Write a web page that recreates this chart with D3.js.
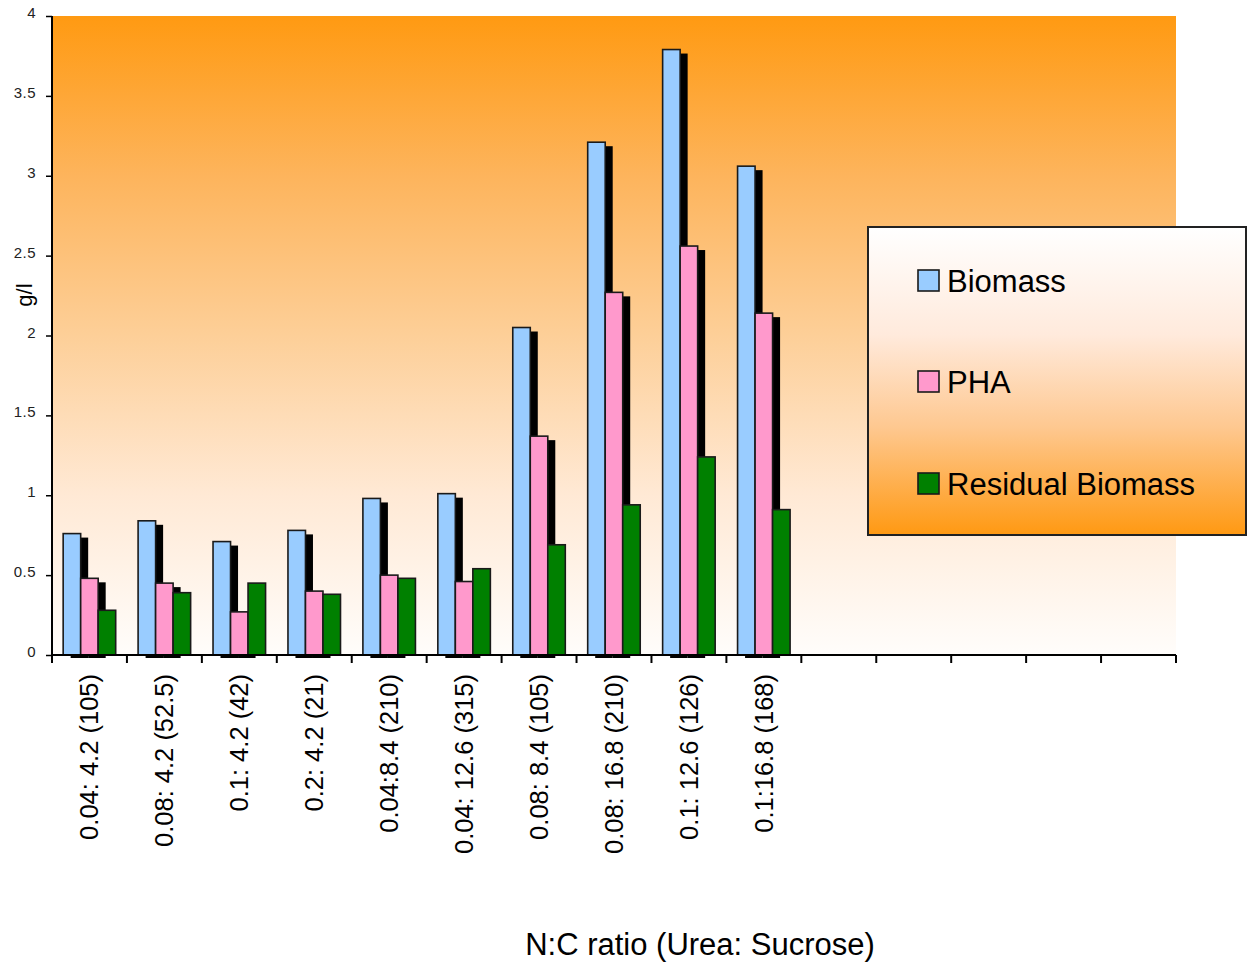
<!DOCTYPE html>
<html>
<head>
<meta charset="utf-8">
<script src="https://cdn.jsdelivr.net/npm/d3@7/dist/d3.min.js"></script>
<style>
  html, body { margin: 0; padding: 0; background: #ffffff; }
  svg { display: block; font-family: "Liberation Sans", Arial, sans-serif; }
</style>
</head>
<body>
<svg id="chart" width="1249" height="963"></svg>
<script>
// N:C ratio (Urea : Sucrose) treatments; the last slots of the axis are left empty
const categories = [
  "0.04: 4.2 (105)", "0.08: 4.2 (52.5)", "0.1: 4.2 (42)", "0.2: 4.2 (21)",
  "0.04:8.4 (210)", "0.04: 12.6 (315)", "0.08: 8.4 (105)", "0.08: 16.8 (210)",
  "0.1: 12.6 (126)", "0.1:16.8 (168)", "", "", "", "", ""
];
const seriesNames = ["Biomass", "PHA", "Residual Biomass"];
const biomass  = [0.76, 0.84, 0.71, 0.78, 0.98, 1.01, 2.05, 3.21, 3.79, 3.06];
const pha      = [0.48, 0.45, 0.27, 0.40, 0.50, 0.46, 1.37, 2.27, 2.56, 2.14];
const residual = [0.28, 0.39, 0.45, 0.38, 0.48, 0.54, 0.69, 0.94, 1.24, 0.91];
const yTicks = [0, 0.5, 1, 1.5, 2, 2.5, 3, 3.5, 4];
const yLabel = "g/l";
const xTitle = "N:C ratio (Urea: Sucrose)";

const colors = ["#99ccff", "#ff99cc", "#008000"];
const values = [biomass, pha, residual];

const svg = d3.select("#chart");
const plot = { left: 52, right: 1176, top: 16, bottom: 655 };

const x = d3.scaleBand()
  .domain(d3.range(categories.length))
  .range([plot.left, plot.right])
  .paddingInner(0).paddingOuter(0);

const y = d3.scaleLinear().domain([0, 4]).range([plot.bottom, plot.top]);

// cluster occupies the middle part of each category slot
const bw = x.bandwidth();
const inner = d3.scaleBand()
  .domain(d3.range(seriesNames.length))
  .range([bw * 0.149, bw * 0.85])
  .paddingInner(0);

const defs = svg.append("defs");
const bgGrad = defs.append("linearGradient").attr("id", "plotBg")
  .attr("x1", 0).attr("y1", 0).attr("x2", 0).attr("y2", 1);
[[0, "#ff9a12"], [0.25, "#fdb45c"], [0.5, "#fdcf98"], [0.75, "#ffe9d5"], [1, "#fffdfb"]]
  .forEach(([o, c]) => bgGrad.append("stop").attr("offset", o).attr("stop-color", c));

const lgGrad = defs.append("linearGradient").attr("id", "legendBg")
  .attr("x1", 0).attr("y1", 0).attr("x2", 0).attr("y2", 1);
[[0, "#ffffff"], [0.35, "#ffeadc"], [0.65, "#fec890"], [1, "#ff9912"]]
  .forEach(([o, c]) => lgGrad.append("stop").attr("offset", o).attr("stop-color", c));

// plot background
svg.append("rect")
  .attr("x", plot.left).attr("y", plot.top)
  .attr("width", plot.right - plot.left).attr("height", plot.bottom - plot.top)
  .attr("fill", "url(#plotBg)");

// bars with drop shadows (shadows only behind the first two series)
const gBars = svg.append("g");
const shadowDx = 7.5, shadowDy = 4;
categories.forEach((cat, i) => {
  if (i >= biomass.length) return;
  const x0 = x(i);
  values.forEach((vals, s) => {
    const v = vals[i];
    const bx = x0 + inner(s);
    const by = y(v);
    const w = inner.bandwidth();
    if (s < 2) {
      gBars.append("rect")
        .attr("x", bx + shadowDx).attr("y", by + shadowDy)
        .attr("width", w).attr("height", y(0) - by - shadowDy + 3)
        .attr("fill", "#000");
    }
    gBars.append("rect")
      .attr("x", bx).attr("y", by)
      .attr("width", w).attr("height", y(0) - by)
      .attr("fill", colors[s])
      .attr("stroke", "#1a1a1a").attr("stroke-width", 1.6);
  });
});

// y axis
const yAxis = d3.axisLeft(y).tickValues(yTicks)
  .tickFormat(d3.format("")).tickSize(6).tickPadding(10);
const gy = svg.append("g").attr("transform", `translate(${plot.left},0)`).call(yAxis);
gy.select(".domain").remove();
gy.selectAll(".tick line").attr("stroke", "#000").attr("stroke-width", 1.5);
gy.selectAll(".tick text")
  .attr("font-size", 15).attr("fill", "#222")
  .attr("font-family", "'Liberation Sans', Arial, sans-serif")
  .attr("letter-spacing", 0.5)
  .attr("dy", "0.1em");
svg.append("line")
  .attr("x1", plot.left).attr("x2", plot.left)
  .attr("y1", plot.top).attr("y2", plot.bottom + 6)
  .attr("stroke", "#000").attr("stroke-width", 2);

// x axis with ticks at slot boundaries
svg.append("line")
  .attr("x1", plot.left).attr("x2", plot.right)
  .attr("y1", plot.bottom).attr("y2", plot.bottom)
  .attr("stroke", "#000").attr("stroke-width", 2);
const bounds = d3.range(categories.length + 1).map(i => plot.left + i * bw);
svg.append("g").selectAll("line").data(bounds).join("line")
  .attr("x1", d => d).attr("x2", d => d)
  .attr("y1", plot.bottom).attr("y2", plot.bottom + 8)
  .attr("stroke", "#000").attr("stroke-width", 2);

// category labels, rotated
svg.append("g").selectAll("text").data(categories).join("text")
  .attr("transform", (d, i) => `translate(${x(i) + bw / 2 + 9},674) rotate(-90)`)
  .attr("text-anchor", "end")
  .attr("font-size", 25.5)
  .attr("fill", "#000")
  .text(d => d);

// axis titles
svg.append("text")
  .attr("transform", "translate(32,295) rotate(-90)")
  .attr("text-anchor", "middle")
  .attr("font-size", 22)
  .text(yLabel);

svg.append("text")
  .attr("x", 700).attr("y", 955)
  .attr("text-anchor", "middle")
  .attr("font-size", 31)
  .text(xTitle);

// legend
const lg = svg.append("g").attr("transform", "translate(868,227)");
lg.append("rect")
  .attr("width", 378).attr("height", 308)
  .attr("fill", "url(#legendBg)")
  .attr("stroke", "#222").attr("stroke-width", 2);
const legendRowY = [43, 144, 246];
seriesNames.forEach((name, s) => {
  const row = lg.append("g").attr("transform", `translate(50,${legendRowY[s]})`);
  row.append("rect")
    .attr("x", 0).attr("y", 0).attr("width", 21).attr("height", 21)
    .attr("fill", colors[s]).attr("stroke", "#1a1a1a").attr("stroke-width", 1.6);
  row.append("text")
    .attr("x", 29).attr("y", 22)
    .attr("font-size", 31)
    .attr("fill", "#000")
    .text(name);
});
</script>
</body>
</html>
